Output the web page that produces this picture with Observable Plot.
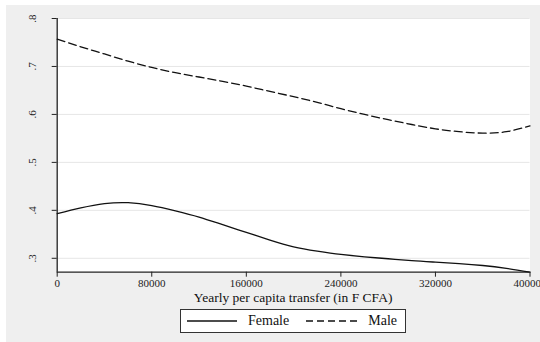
<!DOCTYPE html>
<html>
<head>
<meta charset="utf-8">
<script src="https://cdn.jsdelivr.net/npm/d3@7"></script>
<script src="https://cdn.jsdelivr.net/npm/@observablehq/plot@0.6"></script>
<style>
  body { margin: 0; background: #fff; }
  #wrap { position: relative; width: 540px; height: 342px; overflow: hidden; background: #fff; font-family: "Liberation Serif", "Times New Roman", serif; }
  #bg { position: absolute; left: 6px; top: 5px; width: 534px; height: 337px; background: #efefef; }
  #chart { position: absolute; left: 0; top: 0; }
  #xlabel { position: absolute; left: 56.7px; width: 472.8px; top: 291px; line-height: 13px; text-align: center; font-size: 13.5px; color: #111; }
  #legend { position: absolute; left: 180px; top: 309px; width: 224px; height: 22px; border: 1px solid #333; background: #fff; display: flex; align-items: center; font-size: 14px; color: #111; }
  #legend svg { display: block; }
</style>
</head>
<body>
<div id="wrap">
  <div id="bg"></div>
  <div id="chart"></div>
  <div id="xlabel">Yearly per capita transfer (in F CFA)</div>
  <div id="legend"></div>
</div>
<script>
const transfer = [0, 20000, 40000, 60000, 80000, 100000, 120000, 140000, 160000, 180000, 200000,
                  220000, 240000, 260000, 280000, 300000, 320000, 340000, 360000, 380000, 400000];
const female = [0.393, 0.405, 0.414, 0.416, 0.410, 0.399, 0.386, 0.370, 0.354, 0.338, 0.324,
                0.315, 0.308, 0.303, 0.299, 0.295, 0.292, 0.289, 0.285, 0.279, 0.271];
const male = [0.757, 0.741, 0.726, 0.711, 0.698, 0.687, 0.678, 0.669, 0.659, 0.648, 0.637,
              0.625, 0.612, 0.600, 0.589, 0.579, 0.570, 0.564, 0.561, 0.564, 0.576];
const seriesNames = ["Female", "Male"];
const xTicks = [0, 80000, 160000, 240000, 320000, 400000];
const yTicks = [0.3, 0.4, 0.5, 0.6, 0.7, 0.8];
const yDomain = [0.271, 0.8];

const rows = [];
transfer.forEach((t, i) => {
  rows.push({x: t, y: female[i], s: "Female"});
  rows.push({x: t, y: male[i], s: "Male"});
});

const chart = Plot.plot({
  width: 540,
  height: 310,
  marginLeft: 56.7,
  marginRight: 10.5,
  marginTop: 18,
  marginBottom: 38.3,
  style: { background: "transparent", fontFamily: "Liberation Serif, serif", fontSize: "11px", color: "#222" },
  x: { domain: [0, 400000] },
  y: { domain: yDomain },
  marks: [
    Plot.frame({ fill: "white", stroke: null }),
    Plot.gridY(yTicks, { stroke: "#e6e6e6", strokeOpacity: 1, strokeWidth: 1 }),
    Plot.ruleX([0], { stroke: "#222", strokeWidth: 1.3 }),
    Plot.ruleY([yDomain[0]], { stroke: "#222", strokeWidth: 1.3 }),
    Plot.axisX(xTicks, { tickSize: 5, tickPadding: 2, tickFormat: d => String(d), label: null, stroke: "#222" }),
    Plot.axisY(yTicks, { tickSize: 5, tickPadding: 16, tickRotate: -90, tickFormat: d => d.toFixed(1).replace(/^0/, ""), label: null, stroke: "#222" }),
    Plot.line(rows.filter(d => d.s === "Female"), { x: "x", y: "y", stroke: "#111", strokeWidth: 1.3, curve: "natural" }),
    Plot.line(rows.filter(d => d.s === "Male"), { x: "x", y: "y", stroke: "#111", strokeWidth: 1.3, strokeDasharray: "8,4", curve: "natural" })
  ]
});
document.getElementById("chart").appendChild(chart);

const legend = document.getElementById("legend");
legend.innerHTML =
  `<svg width="58" height="10" style="margin-left:6px"><line x1="0" y1="5" x2="50" y2="5" stroke="#111" stroke-width="1.3"/></svg>` +
  `<span style="margin-left:3px">${seriesNames[0]}</span>` +
  `<svg width="54" height="10" style="margin-left:17px"><line x1="0" y1="5" x2="52" y2="5" stroke="#111" stroke-width="1.3" stroke-dasharray="7,4"/></svg>` +
  `<span style="margin-left:8px">${seriesNames[1]}</span>`;
</script>
</body>
</html>
